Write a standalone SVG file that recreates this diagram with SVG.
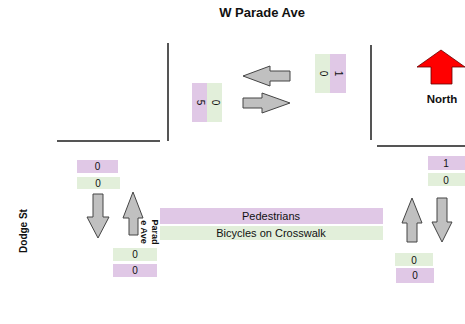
<svg xmlns="http://www.w3.org/2000/svg" width="465" height="324" viewBox="0 0 465 324">
<style>
text{font-family:"Liberation Sans",Arial,sans-serif;fill:#111}
.t{font-weight:bold}
.n{font-size:10px;text-anchor:middle}
.p{fill:#e0c8e6}
.g{fill:#e2efda}
.road{stroke:#555;stroke-width:2;fill:none}
.arr{fill:#c0c0c0;stroke:#444;stroke-width:1}
.bar{font-size:11px;text-anchor:middle}
</style>
<rect width="465" height="324" fill="#fff"/>
<g id="title"><text class="t" x="262" y="17" font-size="13" text-anchor="middle">W Parade Ave</text></g>
<g id="roads">
<path class="road" d="M168,43V141M57,141H160M371,45V140M377,146H465"/>
</g>
<g id="north">
<path d="M441,50L465,67H452V84H431V67H417Z" fill="#ff0000" stroke="#600" stroke-width="0.8"/>
<text class="t" x="442" y="103" font-size="11.5" text-anchor="middle">North</text>
</g>
<g id="connectors">
<path class="arr" d="M243,76L270,66V71H290V81H270V86Z"/>
<path class="arr" d="M290,103L262,93V98H243V108H262V113Z"/>
<path class="arr" d="M93,194H103V217H109L98,238L87,217H93Z"/>
<path class="arr" d="M133,192L143,218H138V235H129V218H123Z"/>
<path class="arr" d="M412,198L422,223H417V242H407V223H402Z"/>
<path class="arr" d="M437,198H447V222H452L442,242L432,222H437Z"/>
</g>
<g id="north-counts">
<rect class="p" x="192" y="83" width="15" height="39"/>
<rect class="g" x="207" y="83" width="15" height="39"/>
<text class="n" transform="translate(196.5,102.5) rotate(90)">5</text>
<text class="n" transform="translate(211.5,102.5) rotate(90)">0</text>
<rect class="g" x="315" y="54" width="15" height="39"/>
<rect class="p" x="330" y="54" width="16" height="39"/>
<text class="n" transform="translate(319.5,73.5) rotate(90)">0</text>
<text class="n" transform="translate(334.5,73.5) rotate(90)">1</text>
</g>
<g id="west-counts">
<rect class="p" x="77" y="160" width="41" height="13"/>
<text class="n" x="97.5" y="170">0</text>
<rect class="g" x="77" y="177" width="43" height="12"/>
<text class="n" x="98" y="187">0</text>
<rect class="g" x="113" y="248" width="44" height="13"/>
<text class="n" x="135" y="258">0</text>
<rect class="p" x="113" y="264" width="44" height="13"/>
<text class="n" x="135" y="274">0</text>
</g>
<g id="east-counts">
<rect class="p" x="428" y="156" width="37" height="14"/>
<text class="n" x="446" y="167">1</text>
<rect class="g" x="428" y="173" width="37" height="13"/>
<text class="n" x="446" y="183.5">0</text>
<rect class="g" x="395" y="253" width="38" height="13"/>
<text class="n" x="414" y="263.5">0</text>
<rect class="p" x="396" y="268" width="38" height="15"/>
<text class="n" x="415" y="279">0</text>
</g>
<g id="crosswalk">
<rect class="p" x="160" y="208" width="223" height="16"/>
<text class="bar" x="271" y="220">Pedestrians</text>
<rect class="g" x="160" y="226" width="223" height="14"/>
<text class="bar" x="271" y="237">Bicycles on Crosswalk</text>
</g>
<g id="street-labels">
<text class="t" font-size="10" text-anchor="middle" transform="translate(26.5,231) rotate(-90)">Dodge St</text>
<text class="t" font-size="9" text-anchor="middle" transform="translate(152,232) rotate(90)">Parad</text>
<text class="t" font-size="9" text-anchor="middle" transform="translate(141,232) rotate(90)">e Ave</text>
</g>
</svg>
